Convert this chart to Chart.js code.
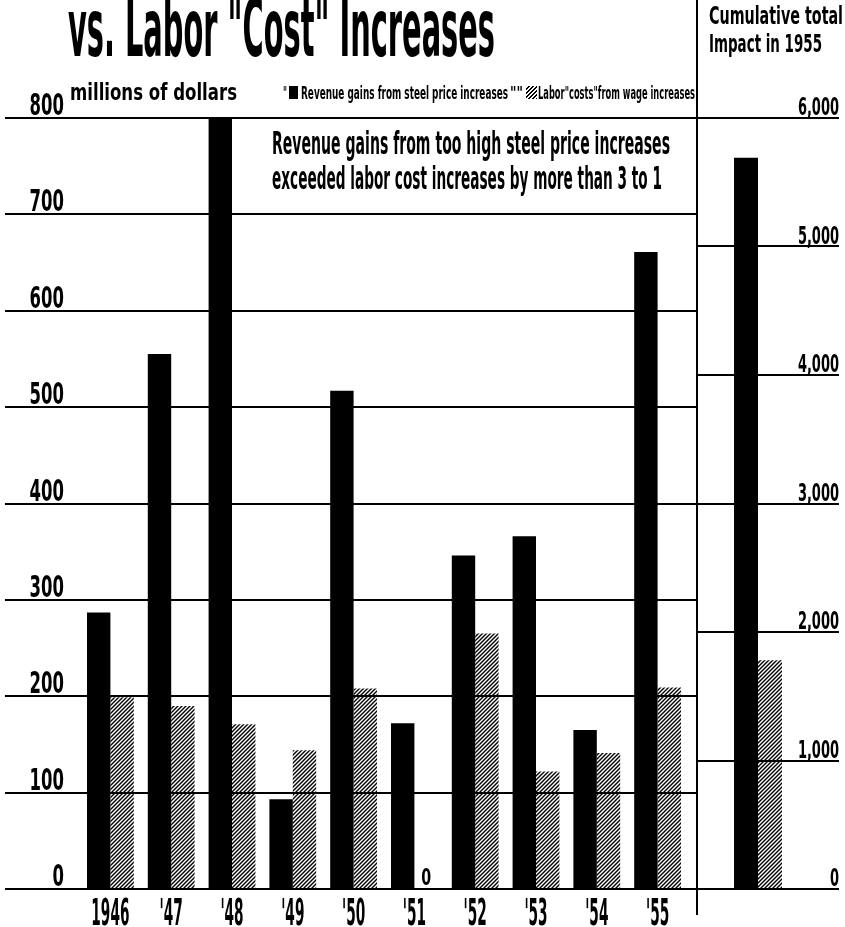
<!DOCTYPE html>
<html>
<head>
<meta charset="utf-8">
<script src="https://cdn.jsdelivr.net/npm/chart.js@4.4.1/dist/chart.umd.min.js"></script>
<style>
html,body{margin:0;padding:0;background:#fff;}
body{width:845px;height:927px;position:relative;overflow:hidden;
  font-family:"DejaVu Sans",sans-serif;font-weight:bold;color:#000;}
.t{position:absolute;white-space:nowrap;line-height:1;transform-origin:0 0;display:inline-block;}
#left{position:absolute;left:0;top:0;}
#right{position:absolute;left:697px;top:0;}
#divider{position:absolute;left:696px;top:0;width:2px;height:915px;background:#000;}
.sw{position:absolute;}
#swBlack{left:289px;top:86px;width:9px;height:13px;background:#000;}
#swHatch{left:526px;top:86px;width:11px;height:13px;
  background:repeating-linear-gradient(-45deg,#000 0 1.2px,#fff 1.2px 2.8px);}
</style>
</head>
<body>
<canvas id="left" width="697" height="927" style="width:697px;height:927px"></canvas>
<canvas id="right" width="148" height="927" style="width:148px;height:927px"></canvas>
<div id="divider"></div>

<div class="t" data-x="68" data-b="57" data-s="80" data-w="427">vs. Labor "Cost" Increases</div>
<div class="t" data-x="70" data-b="100" data-s="23" data-w="167">millions of dollars</div>

<div class="t" data-x="283" data-b="99" data-s="18" data-w="4">"</div>
<div class="sw" id="swBlack"></div>
<div class="t" data-x="301" data-b="99" data-s="18" data-w="207">Revenue gains from steel price increases</div>
<div class="t" data-x="510" data-b="99" data-s="18" data-w="13">""</div>
<div class="sw" id="swHatch"></div>
<div class="t" data-x="538" data-b="99" data-s="18" data-w="157">Labor"costs"from wage increases</div>

<div class="t" data-x="272" data-b="154" data-s="32" data-w="398">Revenue gains from too high steel price increases</div>
<div class="t" data-x="272" data-b="189" data-s="32" data-w="390">exceeded labor cost increases by more than 3 to 1</div>

<div class="t" data-x="709" data-b="24" data-s="24" data-w="134">Cumulative total</div>
<div class="t" data-x="709" data-b="52" data-s="24" data-w="113">Impact in 1955</div>

<script>
// ---- data ----
const years = ['1946', "'47", "'48", "'49", "'50", "'51", "'52", "'53", "'54", "'55"];
const revenueGains = [287, 555, 806, 93, 517, 172, 346, 366, 165, 661];
const laborCosts   = [199, 190, 171, 144, 208, 0, 265, 122, 141, 209];
const cumulativeCategory = [''];
const cumulativeRevenue = [5690];
const cumulativeLabor   = [1780];
const leftTickLabels  = ['0', '100', '200', '300', '400', '500', '600', '700', '800'];
const rightTickLabels = ['0', '1,000', '2,000', '3,000', '4,000', '5,000', '6,000'];
const seriesNames = ['Revenue gains from steel price increases', 'Labor "costs" from wage increases'];

const FAMILY = '"DejaVu Sans", sans-serif';

// ---- place HTML texts ----
document.querySelectorAll('.t').forEach(el => {
  const s = +el.dataset.s;
  el.style.fontSize = s + 'px';
  el.style.left = el.dataset.x + 'px';
  el.style.top = (+el.dataset.b - 0.846 * s) + 'px';
  if (el.dataset.w) {
    const nat = el.getBoundingClientRect().width;
    el.style.transform = 'scaleX(' + (+el.dataset.w / nat) + ')';
  }
});

function hatch() {
  const c = document.createElement('canvas');
  c.width = 4; c.height = 4;
  const x = c.getContext('2d');
  x.strokeStyle = '#000';
  x.lineWidth = 1.4;
  x.beginPath();
  x.moveTo(0, 4); x.lineTo(4, 0);
  x.moveTo(-1, 1); x.lineTo(1, -1);
  x.moveTo(3, 5); x.lineTo(5, 3);
  x.stroke();
  return x.createPattern(c, 'repeat');
}

// draws condensed text (the newspaper face is a very narrow gothic)
function condensedText(ctx, text, x, y, size, sx, align) {
  ctx.save();
  ctx.font = 'bold ' + size + 'px ' + FAMILY;
  ctx.fillStyle = '#000';
  ctx.textAlign = align;
  ctx.textBaseline = 'alphabetic';
  ctx.translate(x, y);
  ctx.scale(sx, 1);
  ctx.fillText(text, 0, 0);
  ctx.restore();
}

// tick labels of the library's scales, drawn condensed at the scale's own tick pixels
const condensedTicks = {
  id: 'condensedTicks',
  afterDraw(chart, args, opts) {
    const ctx = chart.ctx;
    (opts.items || []).forEach(it => {
      const sc = chart.scales[it.scale];
      sc.ticks.forEach((t, i) => {
        const p = sc.getPixelForTick(i);
        if (sc.isHorizontal()) {
          condensedText(ctx, t.label, p, it.y, it.size, it.sx, 'center');
        } else {
          condensedText(ctx, t.label, it.x, p + it.dy, it.size, it.sx, 'right');
        }
      });
    });
  }
};

const zeroLabel = {
  id: 'zeroLabel',
  afterDatasetsDraw(chart) {
    const ctx = chart.ctx;
    chart.data.datasets.forEach((ds, di) => {
      const meta = chart.getDatasetMeta(di);
      meta.data.forEach((bar, i) => {
        if (ds.data[i] === 0) {
          condensedText(ctx, '0', bar.x, bar.base - 4, 23, 0.62, 'center');
        }
      });
    });
  }
};

Chart.defaults.font.family = FAMILY;
Chart.defaults.color = '#000';

new Chart(document.getElementById('left'), {
  type: 'bar',
  data: {
    labels: years,
    datasets: [
      { label: seriesNames[0], data: revenueGains, backgroundColor: '#000', borderWidth: 0,
        categoryPercentage: 0.77, barPercentage: 1, yAxisID: 'y' },
      { label: seriesNames[1], data: laborCosts, backgroundColor: hatch(), borderWidth: 0,
        categoryPercentage: 0.77, barPercentage: 1, yAxisID: 'y' }
    ]
  },
  options: {
    responsive: false, animation: false, devicePixelRatio: 1,
    layout: { padding: { top: 118, bottom: 0, left: 0, right: 0 } },
    plugins: {
      legend: { display: false }, tooltip: { enabled: false },
      condensedTicks: { items: [
        { scale: 'x', y: 925, size: 37, sx: 0.37 },
        { scale: 'y', x: 64, dy: -3, size: 30, sx: 0.55 }
      ] }
    },
    scales: {
      x: {
        grid: { display: false, drawTicks: false },
        border: { display: false },
        ticks: { display: false, autoSkip: false },
        afterFit(s) { s.height = 38; }
      },
      y: {
        position: 'left', min: 0, max: 800,
        ticks: { display: false, stepSize: 100, callback: (v, i) => leftTickLabels[i] },
        grid: { color: '#000', lineWidth: 2, tickLength: 75, drawTicks: true },
        border: { display: false },
        afterFit(s) { s.width = 80; }
      },
      y2: {
        position: 'right', min: 0, max: 800,
        ticks: { stepSize: 100, display: false },
        grid: { drawOnChartArea: false, color: '#000', lineWidth: 2, tickLength: 9, drawTicks: true },
        border: { display: false },
        afterFit(s) { s.width = 9; }
      }
    }
  },
  plugins: [zeroLabel, condensedTicks]
});

new Chart(document.getElementById('right'), {
  type: 'bar',
  data: {
    labels: cumulativeCategory,
    datasets: [
      { label: seriesNames[0], data: cumulativeRevenue, backgroundColor: '#000', borderWidth: 0,
        categoryPercentage: 0.393, barPercentage: 1 },
      { label: seriesNames[1], data: cumulativeLabor, backgroundColor: hatch(), borderWidth: 0,
        categoryPercentage: 0.393, barPercentage: 1 }
    ]
  },
  options: {
    responsive: false, animation: false, devicePixelRatio: 1,
    layout: { padding: { top: 118, bottom: 0, left: 0, right: 6 } },
    plugins: {
      legend: { display: false }, tooltip: { enabled: false },
      condensedTicks: { items: [
        { scale: 'y', x: 142, dy: -3, size: 25, sx: 0.52 }
      ] }
    },
    scales: {
      x: {
        grid: { display: false, drawTicks: false },
        border: { display: false },
        ticks: { display: false },
        afterFit(s) { s.height = 38; }
      },
      y: {
        position: 'right', min: 0, max: 6000,
        ticks: { display: false, stepSize: 1000, callback: (v, i) => rightTickLabels[i] },
        grid: { color: '#000', lineWidth: 2, tickLength: 20, drawTicks: true },
        border: { display: false },
        afterFit(s) { s.width = 20; }
      }
    }
  },
  plugins: [condensedTicks]
});
</script>
</body>
</html>
